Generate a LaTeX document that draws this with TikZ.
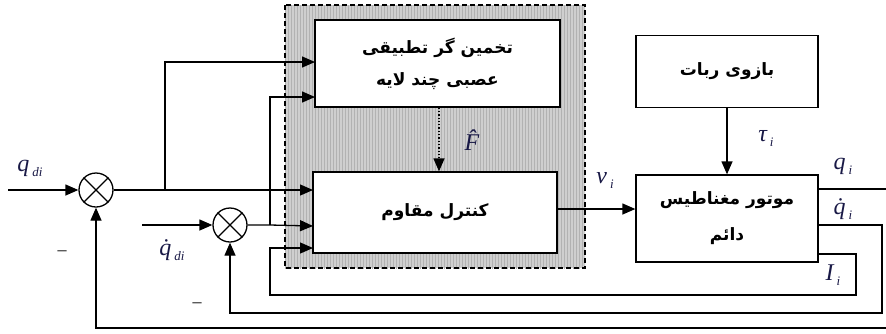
\documentclass[tikz,border=0pt]{standalone}
\usepackage{fontspec}
\usetikzlibrary{arrows.meta,patterns}
\newfontfamily\arabicfont[Script=Arabic]{DejaVu Sans}
\newfontfamily\tms{Liberation Serif}
\TeXXeTstate=1
\definecolor{lblue}{RGB}{25,25,70}
\newcommand\mylab[2]{{\fontsize{24}{24}\selectfont\tms\itshape #1}\hspace{3pt}\raisebox{-5pt}{\fontsize{13}{13}\selectfont\tms\itshape #2}}
\tikzset{
  blk/.style={draw, line width=1.3pt, fill=white, inner sep=0pt, font=\arabicfont\bfseries\fontsize{17}{32}\selectfont, align=center},
  sumj/.style={draw, circle, line width=1.3pt, minimum size=34pt, inner sep=0pt},
  wire/.style={line width=1.3pt},
  arr/.style={line width=1.3pt, -{Triangle[length=13pt,width=11pt]}},
  lbl/.style={text=lblue, inner sep=0pt},
  mns/.style={font=\tms\fontsize{18}{18}\selectfont, inner sep=0pt}
}
\begin{document}
\begin{tikzpicture}[x=1pt,y=-1pt]
\useasboundingbox (0,0) rectangle (886,333);
% shaded region
\fill[gray!38] (285,5) rectangle (585,268);
\fill[pattern=vertical lines, pattern color=gray!60] (285,5) rectangle (585,268);
\draw[dash pattern=on 5pt off 3pt, line width=1.2pt] (285,5) rectangle (585,268);
% blocks
\node[blk, minimum width=245pt, minimum height=87pt] (nn) at (437.5,63.5) {\beginR تخمین گر تطبیقی\endR\\\beginR عصبی چند لایه\endR};
\node[blk, minimum width=244pt, minimum height=81pt] (ctrl) at (435,212.5) {\beginR کنترل مقاوم\endR};
\node[blk, minimum width=182pt, minimum height=72pt] (arm) at (727,71.5) {\beginR بازوی ربات\endR};
\node[blk, minimum width=182pt, minimum height=87pt, font=\arabicfont\bfseries\fontsize{17}{36}\selectfont] (mot) at (727,218.5) {\beginR موتور مغناطیس\endR\\\beginR دائم\endR};
% summing junctions
\node[sumj] (s1) at (96,190) {};
\draw[wire] (s1.45) -- (s1.225) (s1.135) -- (s1.315);
\node[sumj] (s2) at (230,225) {};
\draw[wire] (s2.45) -- (s2.225) (s2.135) -- (s2.315);
% coordinates
\coordinate (qin) at (8,190);
\coordinate (qdin) at (142,225);
\coordinate (b1) at (165,190);
\coordinate (b2) at (270,225);
\coordinate (nnA) at (315,62);
\coordinate (nnB) at (315,97);
\coordinate (cA) at (313,190);
\coordinate (cB) at (313,226);
\coordinate (cC) at (313,248);
\coordinate (mq) at (818,189);
\coordinate (mqd) at (818,225);
\coordinate (mI) at (818,254);
\coordinate (qout) at (886,189);
\coordinate (qret) at (886,328);
% forward paths
\draw[arr] (qin) -- (s1.west);
\draw[arr] (s1.east) -- (cA);
\draw[arr] (b1) |- (nnA);
\draw[arr] (qdin) -- (s2.west);
\draw[arr] (s2.east) -- (b2) -- (cB);
\draw[arr] (b2) |- (nnB);
\draw[arr, dotted] (nn.south -| 439,0) -- (ctrl.north -| 439,0);
\draw[arr] (ctrl.east |- 0,209) -- (mot.west |- 0,209);
\draw[arr] (arm.south) -- (mot.north);
% outputs and feedback
\draw[wire] (mq) -- (qout);
\draw[arr] (mI) -| (856,295) -| (270,248) -- (cC);
\draw[arr] (mqd) -| (882,313) -| (s2.south);
\draw[arr] (qret) -| (s1.south);
% labels
\node[lbl] at (30,168) {\mylab{q}{di}};
\node[lbl] at (172,250) {\mylab{\.{q}}{di}};
\node[mns] at (62,253) {–};
\node[mns] at (197,305) {–};
\node[lbl, font=\fontsize{24}{24}\selectfont\tms\itshape] at (472,140) {\^{F}};
\node[lbl] at (605,180) {\mylab{v}{i}};
\node[lbl] at (766,138) {\mylab{τ}{i}};
\node[lbl] at (843,166) {\mylab{q}{i}};
\node[lbl] at (843,209) {\mylab{\.{q}}{i}};
\node[lbl] at (833,275) {\mylab{I}{i}};
\end{tikzpicture}
\end{document}
